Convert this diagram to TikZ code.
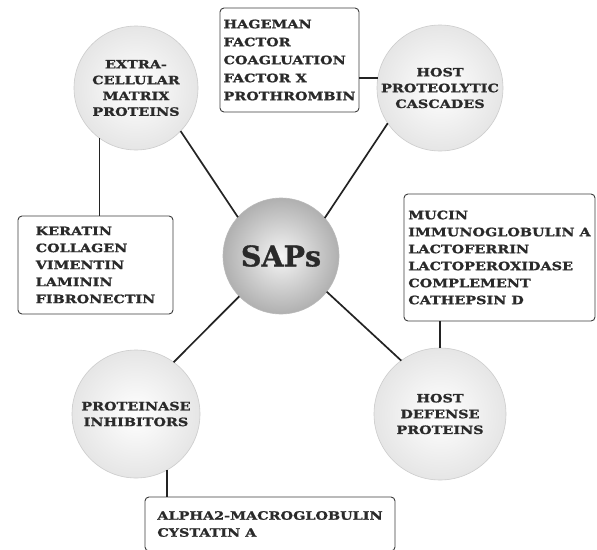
\documentclass[tikz,border=0pt]{standalone}
\usepackage{fontspec}
\setmainfont{DejaVu Serif}[FakeStretch=1.25, BoldFeatures={FakeBold=1.2}]
\newfontfamily\hubfont{DejaVu Serif}[BoldFeatures={FakeBold=1.0}]
\definecolor{txt}{HTML}{2A2A2A}
\definecolor{ln}{HTML}{232323}
\definecolor{boxc}{HTML}{3C3C3C}
\begin{document}
\begin{tikzpicture}[x=1pt,y=-1pt,
  bub/.style={circle, draw=gray!40, line width=0.6pt, inner color=white, outer color=gray!20,
    minimum size=#1, inner sep=0pt, outer sep=0pt, align=center,
    font=\fontsize{11.5}{15.8}\selectfont\bfseries, text=txt},
  hub/.style={circle, draw=gray!55, line width=0.6pt, inner color=gray!8, outer color=gray!62,
    minimum size=116pt, inner sep=0pt, outer sep=0pt,
    font=\hubfont\fontsize{28.5}{30}\selectfont\bfseries, text=txt},
  listbox/.style={draw=boxc, line width=0.9pt, rounded corners=4pt, fill=white,
    align=left, inner sep=0pt, outer sep=0pt, anchor=north west,
    font=\fontsize{11.5}{17}\selectfont\bfseries, text=txt},
  conn/.style={draw=ln, line width=1.7pt}]
\path[use as bounding box, fill=white] (0,0) rectangle (597,549);

% circles
\node[hub] (sap) at (281,256) {SAPs};
\node[bub=124pt] (ecm) at (136,88) {EXTRA-\\CELLULAR\\MATRIX\\PROTEINS};
\node[bub=126pt] (hpc) at (440,88) {HOST\\PROTEOLYTIC\\CASCADES};
\node[bub=128pt] (pin) at (136,414) {PROTEINASE\\INHIBITORS};
\node[bub=132pt] (hdp) at (440,414) {HOST\\DEFENSE\\PROTEINS};

% boxes
\node[listbox, minimum width=139pt, minimum height=104pt, font=\fontsize{11.5}{18}\selectfont\bfseries] (hag) at (220,8)
  {HAGEMAN\\FACTOR\\COAGLUATION\\FACTOR X\\PROTHROMBIN};
\node[listbox, minimum width=155pt, minimum height=98pt] (ker) at (18,216)
  {KERATIN\\COLLAGEN\\VIMENTIN\\LAMININ\\FIBRONECTIN};
\node[listbox, minimum width=191pt, minimum height=127pt] (muc) at (404,194)
  {MUCIN\\IMMUNOGLOBULIN A\\LACTOFERRIN\\LACTOPEROXIDASE\\COMPLEMENT\\CATHEPSIN D};
\node[listbox, minimum width=250pt, minimum height=54pt] (alp) at (145,497)
  {ALPHA2-MACROGLOBULIN\\CYSTATIN A};

% connectors to hub
\draw[conn] (ecm.-44) -- (sap.138);
\draw[conn] (hpc.-146) -- (sap.41);
\draw[conn] (pin.54.6) -- (sap.224);
\draw[conn] (hdp.126) -- (sap.-38);

% connectors to boxes
\draw[conn] (ecm.234.5) -- (ecm.234.5 |- ker.north);
\draw[conn] (hpc.171.8) -- (hpc.171.8 -| hag.east);
\draw[conn] (pin.-61) -- (pin.-61 |- alp.north);
\draw[conn] (hdp.north) -- (hdp.north |- muc.south);
\end{tikzpicture}
\end{document}
